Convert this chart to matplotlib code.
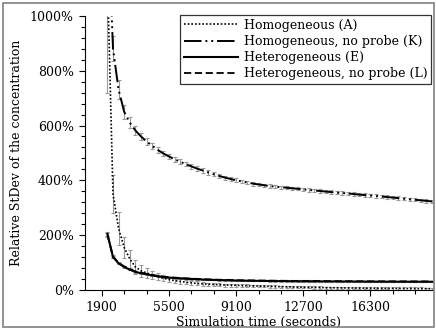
import numpy as np
import matplotlib
matplotlib.use("Agg")
import matplotlib.pyplot as plt
from matplotlib.patches import Rectangle
from matplotlib.ticker import MultipleLocator, FixedLocator, FuncFormatter

plt.rcParams['font.family'] = 'DejaVu Serif'
plt.rcParams['font.size'] = 9

# sample times (seconds), one every 300 s
time = list(range(2200, 19601, 300))

# relative stdev in %
hom_a = [1150, 350, 224, 155, 113, 84, 70, 62, 55, 49, 43, 38, 34, 31, 28, 26, 24, 22, 21, 20,
         19, 18, 17.5, 17, 16, 15.5, 15, 14.3, 13.7, 13.1, 12.5, 12, 11.5, 11, 10.5, 10, 9.6, 9.2,
         8.8, 8.5, 8.2, 7.9, 7.6, 7.3, 7.0, 6.8, 6.6, 6.4, 6.2, 6.0, 5.8, 5.6, 5.4, 5.3, 5.2, 5.1,
         5.0, 4.9, 4.8]
hom_a_err = [430, 70, 60, 38, 33, 27, 22, 18, 15, 13, 11, 10, 9, 8.5, 8, 7.5, 7, 6.5, 6, 6,
             5.5, 5.5, 5, 5, 5, 5, 4.5, 4.5, 4.5, 4.5, 4, 4, 4, 4, 4, 4, 4, 4, 4, 4, 4, 4, 4, 4,
             4, 4, 4, 4, 4, 4, 4, 4, 4, 4, 4, 4, 4, 4, 4]

hom_k = [1400, 880, 730, 650, 610, 582, 560, 542, 526, 511, 498, 487, 477, 468, 459, 451, 443,
         436, 429, 422, 416, 410, 405, 400, 396, 392, 388, 385, 382, 379, 377, 375, 373, 371,
         369, 367, 365, 363, 361, 359, 357, 355, 354, 352, 350, 348, 346, 345, 343, 341, 339,
         337, 335, 333, 331, 329, 327, 325, 323]
hom_k_err = [80, 45, 35, 25, 20, 16, 14, 12, 11, 10, 10, 9, 9, 9, 8, 8, 8, 8, 8, 7, 7, 7, 7, 7,
             7, 7, 7, 7, 6, 6, 6, 6, 6, 6, 6, 6, 6, 6, 6, 6, 6, 6, 6, 6, 6, 6, 6, 6, 6, 6, 6, 6,
             6, 6, 6, 6, 6, 6, 6]

het_e = [205, 120, 97, 84, 74, 66, 61, 57, 53, 50, 47, 45, 43.5, 42, 41, 40, 39, 38, 37.3,
         36.6, 36, 35.4, 34.9, 34.4, 34, 33.7, 33.4, 33.1, 32.9, 32.7, 32.5, 32.3, 32.1, 31.9,
         31.7, 31.6, 31.5, 31.4, 31.3, 31.2, 31.1, 31.0, 30.9, 30.8, 30.7, 30.6, 30.5, 30.4,
         30.3, 30.3, 30.2, 30.2, 30.1, 30.1, 30.0, 30.0, 30.0, 29.9, 29.9]
het_e_err = [8, 4, 3, 3, 2.5, 2.5, 2, 2, 2, 2, 2, 2, 2, 2, 2, 2, 2, 2, 2, 2, 2, 2, 2, 2, 2, 2,
             2, 2, 2, 2, 2, 2, 2, 2, 2, 2, 2, 2, 2, 2, 2, 2, 2, 2, 2, 2, 2, 2, 2, 2, 2, 2, 2, 2,
             2, 2, 2, 2, 2]

het_l = [200, 122, 99, 86, 76, 68, 63, 58.5, 54.5, 51.5, 48.5, 46.5, 45, 43.5, 42.4, 41.4,
         40.4, 39.4, 38.6, 37.9, 37.3, 36.7, 36.2, 35.7, 35.3, 35, 34.7, 34.4, 34.1, 33.9,
         33.7, 33.5, 33.3, 33.1, 32.9, 32.8, 32.7, 32.6, 32.5, 32.4, 32.3, 32.2, 32.1, 32.0,
         31.9, 31.8, 31.7, 31.6, 31.5, 31.5, 31.4, 31.4, 31.3, 31.3, 31.2, 31.2, 31.2, 31.1,
         31.1]
het_l_err = het_e_err

labels = ['Homogeneous (A)', 'Homogeneous, no probe (K)',
          'Heterogeneous (E)', 'Heterogeneous, no probe (L)']

fig = plt.figure(figsize=(4.36, 3.31), dpi=100)
ax = fig.add_axes([0.195, 0.124, 0.798, 0.828])

styles = [(0, (1, 1.2)), (0, (9, 2, 1, 2, 1, 2)), '-', (0, (4, 2))]
widths = [1.2, 1.4, 1.5, 1.3]
series = [(hom_a, hom_a_err), (hom_k, hom_k_err), (het_e, het_e_err), (het_l, het_l_err)]

handles = []
for (vals, err), ls, lw, lab in zip(series, styles, widths, labels):
    ax.errorbar(time, vals, yerr=err, fmt='none', ecolor='#999999', elinewidth=0.8,
                capsize=1.5, capthick=0.8, zorder=2)
    h, = ax.plot(time, vals, color='black', linestyle=ls, linewidth=lw, label=lab, zorder=3)
    handles.append(h)

ax.set_xlim(1000, 19650)
ax.set_ylim(0, 1000)

ax.xaxis.set_major_locator(FixedLocator([1900, 5500, 9100, 12700, 16300]))
ax.xaxis.set_minor_locator(MultipleLocator(1200, offset=700))
ax.yaxis.set_major_locator(MultipleLocator(200))
ax.yaxis.set_minor_locator(MultipleLocator(40))
ax.yaxis.set_major_formatter(FuncFormatter(lambda v, p: f'{v:.0f}%'))
ax.tick_params(which='major', length=4, width=0.8, labelsize=9, pad=4)
ax.tick_params(which='minor', length=3, width=0.8)

for s in ['top', 'right']:
    ax.spines[s].set_visible(False)

ax.set_xlabel('Simulation time (seconds)', fontsize=9, labelpad=1)
ax.set_ylabel('Relative StDev of the concentration', fontsize=9, labelpad=5)

leg = ax.legend(handles=handles, loc='upper right', bbox_to_anchor=(0.995, 1.003),
                fontsize=9, frameon=True, fancybox=False, framealpha=1,
                edgecolor='#333333', handlelength=4.3, handletextpad=0.5,
                labelspacing=0.25, borderpad=0.3, borderaxespad=0)
leg.get_frame().set_linewidth(0.9)

# grey frame around the whole picture
fig.patches.append(Rectangle((0.008, 0.012), 0.988, 0.978, transform=fig.transFigure,
                             fill=False, edgecolor='#808080', linewidth=1.2))

fig.savefig('out.png', dpi=100)
